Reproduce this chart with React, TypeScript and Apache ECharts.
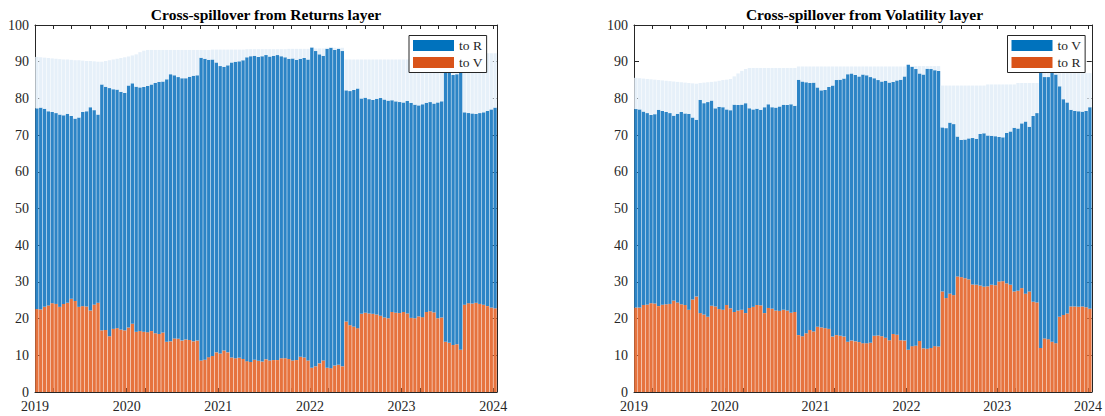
import { useEffect, useRef } from 'react';
import * as echarts from 'echarts';

// ---- data (semi-monthly observations, 2019 – Jan 2024) ----
const START_YEAR = 2019;
const PERIODS_PER_YEAR = 24;
const N_PERIODS = 121;
const X_MAX = START_YEAR + N_PERIODS / PERIODS_PER_YEAR;
const TITLE_LEFT = 'Cross-spillover from Returns layer';
const TITLE_RIGHT = 'Cross-spillover from Volatility layer';
const YEAR_TICKS = [2019, 2020, 2021, 2022, 2023, 2024];

// observation dates: first / second half of each month
const PERIODS = Array.from({ length: N_PERIODS }, (_, i) => {
  const y = START_YEAR + Math.floor(i / PERIODS_PER_YEAR);
  const m = Math.floor((i % PERIODS_PER_YEAR) / 2) + 1;
  return `${y}-${String(m).padStart(2, '0')}-${i % 2 === 0 ? '01' : '16'}`;
});

// Returns layer: orange ("to V") height, top of blue stack ("to R"), top of faint outline region
const retToV = [
  22.6, 22.5, 23.2, 23.6, 24.2, 24.0, 23.2, 24.0, 24.3, 25.4,
  24.8, 23.2, 23.4, 23.3, 22.2, 23.8, 24.3, 16.8, 16.9, 15.2,
  17.2, 17.4, 17.0, 16.8, 17.6, 18.6, 16.4, 16.6, 16.4, 16.3,
  16.6, 16.0, 15.8, 16.2, 13.7, 13.8, 14.6, 14.5, 14.0, 14.3,
  14.2, 13.8, 14.0, 8.6, 8.8, 9.5, 9.8, 10.8, 10.5, 11.3,
  10.8, 9.4, 9.2, 9.3, 9.0, 8.4, 8.2, 8.8, 8.5, 8.3,
  8.9, 8.6, 8.7, 8.7, 9.2, 9.2, 9.0, 8.6, 8.7, 9.6,
  9.4, 8.6, 6.6, 7.0, 7.8, 8.6, 6.6, 6.5, 7.2, 7.4,
  7.0, 19.2, 18.2, 17.8, 17.4, 21.3, 21.6, 21.4, 21.3, 21.1,
  20.8, 20.3, 20.1, 21.8, 21.6, 21.5, 21.8, 21.4, 20.2, 20.1,
  20.6, 20.4, 21.8, 22.0, 21.7, 20.1, 20.3, 13.7, 13.4, 12.8,
  13.0, 11.5, 23.8, 24.2, 24.1, 24.3, 24.0, 23.8, 23.4, 23.0,
  22.8,
];
const retTotal = [
  77.3, 77.5, 77.2, 76.5, 76.3, 76.0, 75.6, 75.4, 75.8, 75.2,
  74.5, 74.8, 76.3, 76.5, 77.6, 76.8, 75.6, 83.8, 83.2, 82.8,
  82.5, 82.4, 81.8, 81.5, 83.5, 84.1, 83.2, 83.0, 83.1, 83.4,
  83.8, 84.2, 84.5, 84.6, 85.2, 86.6, 86.3, 85.8, 85.5, 85.5,
  85.9, 86.2, 86.3, 91.1, 90.8, 90.5, 90.6, 89.8, 88.8, 88.6,
  89.0, 89.8, 90.0, 90.1, 90.4, 91.2, 91.5, 91.6, 91.3, 91.5,
  91.8, 91.4, 91.6, 91.8, 91.5, 91.2, 90.8, 90.9, 90.5, 90.8,
  91.0, 90.6, 93.9, 92.9, 92.0, 91.6, 93.5, 93.8, 93.2, 93.5,
  92.9, 82.2, 82.0, 82.3, 82.7, 80.0, 80.2, 79.8, 79.6, 79.9,
  80.1, 79.7, 79.4, 79.5, 79.2, 79.0, 78.9, 79.3, 78.8, 78.3,
  78.1, 78.4, 78.8, 79.0, 78.6, 78.9, 79.2, 87.2, 87.0, 86.4,
  86.6, 87.0, 76.2, 76.0, 75.9, 75.8, 76.0, 76.2, 76.6, 77.0,
  77.5,
];
const retOutline = [
  91.3, 91.2, 91.1, 91.0, 90.9, 90.8, 90.7, 90.6, 90.6, 90.5,
  90.4, 90.4, 90.3, 90.2, 90.2, 90.1, 90.0, 90.0, 90.2, 90.4,
  90.6, 90.8, 91.0, 91.2, 91.4, 91.7, 92.0, 92.6, 93.0, 93.2,
  93.2, 93.2, 93.2, 93.2, 93.2, 93.2, 93.2, 93.2, 93.2, 93.2,
  93.2, 93.2, 93.2, 93.2, 93.2, 93.2, 93.3, 93.3, 93.3, 93.3,
  93.3, 93.3, 93.3, 93.3, 93.3, 93.4, 93.4, 93.4, 93.4, 93.4,
  93.4, 93.4, 93.4, 93.4, 93.4, 93.4, 93.5, 93.5, 93.5, 93.5,
  93.5, 93.5, 94.0, 93.6, 93.6, 93.6, 93.8, 94.0, 93.8, 93.8,
  93.8, 90.6, 90.6, 90.6, 90.6, 90.6, 90.6, 90.6, 90.6, 90.6,
  90.6, 90.6, 90.6, 90.6, 90.6, 90.6, 90.6, 90.6, 90.6, 90.6,
  90.6, 90.6, 90.6, 90.6, 90.6, 90.6, 90.6, 88.0, 88.0, 88.0,
  88.0, 88.0, 92.3, 92.3, 92.3, 92.3, 92.3, 92.3, 92.3, 92.3,
  92.3,
];

// Volatility layer: orange ("to R") height, top of blue stack ("to V"), top of faint outline region
const volToR = [
  23.0, 23.0, 23.7, 23.8, 24.2, 24.1, 23.4, 23.8, 23.9, 24.0,
  24.9, 24.4, 23.9, 23.7, 22.4, 25.2, 26.0, 21.5, 21.1, 20.5,
  23.5, 23.3, 22.6, 22.4, 23.7, 22.8, 21.8, 22.2, 22.4, 21.5,
  22.9, 23.2, 23.7, 23.6, 21.5, 22.9, 22.7, 22.2, 22.1, 22.4,
  22.2, 21.6, 21.8, 15.5, 15.2, 16.0, 16.9, 16.5, 17.8, 17.6,
  17.4, 17.2, 15.1, 15.5, 15.3, 15.1, 13.7, 14.0, 13.8, 13.6,
  13.3, 13.3, 13.4, 15.3, 15.4, 15.2, 14.8, 14.1, 15.8, 15.6,
  14.1, 14.0, 11.5, 12.5, 12.6, 13.9, 11.9, 11.8, 12.0, 12.5,
  12.4, 27.4, 25.6, 26.8, 26.4, 31.5, 31.3, 31.0, 30.7, 29.3,
  29.2, 29.0, 28.7, 28.8, 29.2, 29.1, 30.1, 30.2, 29.6, 29.2,
  27.4, 27.6, 28.3, 26.8, 27.4, 24.6, 24.4, 12.0, 14.6, 14.4,
  13.7, 13.3, 20.5, 21.0, 21.4, 23.3, 23.3, 23.2, 23.3, 23.1,
  22.7,
];
const volTotal = [
  77.1, 77.0, 76.4, 76.0, 75.5, 75.7, 76.9, 76.6, 76.3, 76.0,
  75.3, 75.8, 76.3, 75.9, 75.8, 74.8, 74.2, 79.6, 78.7, 79.0,
  79.4, 77.3, 77.7, 77.6, 77.0, 76.8, 78.3, 78.2, 78.3, 78.7,
  77.3, 77.0, 77.2, 76.9, 77.6, 78.4, 77.6, 77.5, 77.8, 78.3,
  78.2, 78.4, 78.0, 85.1, 84.6, 84.4, 84.2, 84.3, 83.0, 82.2,
  82.3, 83.1, 83.5, 85.0, 85.1, 85.4, 86.6, 86.8, 86.4, 86.0,
  86.5, 86.3, 85.8, 85.5, 85.0, 84.6, 84.8, 84.3, 84.5, 84.9,
  85.1, 86.0, 89.2, 88.6, 88.0, 86.8, 86.5, 88.1, 88.0, 87.7,
  87.5, 72.1, 71.9, 73.4, 73.0, 69.6, 68.7, 68.8, 69.1, 69.2,
  69.0, 70.3, 70.5, 69.9, 69.8, 69.7, 69.5, 69.4, 70.6, 71.0,
  72.0, 71.8, 73.2, 73.7, 72.3, 75.2, 76.0, 86.9, 85.8, 85.8,
  86.9, 86.5, 83.3, 79.8, 78.9, 76.9, 76.6, 76.5, 76.4, 76.6,
  77.6,
];
const volOutline = [
  85.6, 85.5, 85.4, 85.3, 85.2, 85.1, 85.0, 84.9, 84.8, 84.7,
  84.6, 84.5, 84.4, 84.3, 84.2, 84.1, 84.0, 84.2, 84.3, 84.4,
  84.5, 84.6, 84.8, 85.0, 85.1, 85.3, 86.0, 86.8, 87.5, 88.0,
  88.3, 88.3, 88.3, 88.3, 88.3, 88.3, 88.3, 88.3, 88.3, 88.3,
  88.3, 88.3, 88.3, 88.7, 88.7, 88.7, 88.7, 88.7, 88.7, 88.7,
  88.7, 88.7, 88.7, 88.7, 88.7, 88.7, 88.7, 88.7, 88.7, 88.7,
  88.7, 88.7, 88.7, 88.7, 88.7, 88.7, 88.7, 88.7, 88.7, 88.7,
  88.7, 88.7, 89.2, 88.8, 88.8, 88.8, 88.8, 88.8, 88.8, 88.8,
  88.8, 83.5, 83.5, 83.5, 83.5, 83.5, 83.5, 83.5, 83.5, 83.5,
  83.5, 83.5, 83.5, 83.8, 83.8, 83.8, 83.8, 83.8, 83.8, 83.8,
  83.8, 84.2, 84.2, 84.2, 84.2, 84.2, 84.2, 87.0, 87.0, 87.0,
  87.0, 87.0, 86.9, 86.9, 86.9, 86.9, 86.9, 86.9, 86.9, 86.9,
  86.9,
];

// ---- styles ----
const FONT = '"Liberation Serif", "Times New Roman", serif';
const AXIS = '#262626';
const BAR_BLUE = '#2c84c6';
const BAR_ORANGE = '#e6733e';
const BAR_PALE = '#e6f0f9';
const KEY_BLUE = '#0072BD';
const KEY_ORANGE = '#D95319';

// per grid: xAxis 3*gi = hidden category axis for the bars, +1 bottom year axis, +2 top mirror
function panel(
  gi: number,
  lower: number[],
  total: number[],
  outline: number[],
  lowerName: string,
  upperName: string,
) {
  const common = {
    type: 'bar' as const,
    stack: 'stack' + gi,
    xAxisIndex: gi * 3,
    yAxisIndex: gi * 2,
    barWidth: 3.3,
    silent: true,
  };
  return [
    {
      ...common,
      name: lowerName,
      itemStyle: { color: BAR_ORANGE },
      data: lower,
    },
    {
      ...common,
      name: upperName,
      itemStyle: { color: BAR_BLUE },
      data: total.map((v, i) => +(v - lower[i]).toFixed(2)),
    },
    {
      ...common,
      name: 'outline' + gi,
      itemStyle: { color: BAR_PALE },
      data: outline.map((v, i) => Math.max(0, +(v - total[i]).toFixed(2))),
    },
  ];
}

function xAxes(gi: number) {
  const base = {
    type: 'value' as const,
    gridIndex: gi,
    min: START_YEAR,
    max: X_MAX,
    interval: 1,
    splitLine: { show: false },
    axisLine: { show: true, onZero: false, lineStyle: { color: AXIS, width: 1 } },
    axisTick: { show: true, inside: true, length: 4, lineStyle: { color: AXIS } },
    minorTick: { show: true, splitNumber: 5, length: 4, lineStyle: { color: AXIS } },
  };
  return [
    {
      type: 'category' as const,
      gridIndex: gi,
      data: PERIODS,
      boundaryGap: true,
      show: false,
    },
    {
      ...base,
      position: 'bottom' as const,
      axisLabel: {
        show: true,
        margin: 7,
        fontFamily: FONT,
        fontSize: 14,
        color: AXIS,
        showMaxLabel: false,
        formatter: (v: number) => (YEAR_TICKS.includes(Math.round(v * 1000) / 1000) ? String(Math.round(v)) : ''),
      },
    },
    { ...base, position: 'top' as const, axisLabel: { show: false } },
  ];
}

function yAxes(gi: number) {
  const base = {
    type: 'value' as const,
    gridIndex: gi,
    min: 0,
    max: 100,
    interval: 10,
    splitLine: { show: false },
    axisLine: { show: true, onZero: false, lineStyle: { color: AXIS, width: 1 } },
    axisTick: { show: true, inside: true, length: 5, lineStyle: { color: AXIS } },
  };
  return [
    {
      ...base,
      position: 'left' as const,
      axisLabel: { show: true, margin: 6, fontFamily: FONT, fontSize: 14, color: AXIS },
    },
    { ...base, position: 'right' as const, axisLabel: { show: false } },
  ];
}

function legend(left: number, first: string, second: string) {
  return {
    orient: 'vertical' as const,
    left,
    top: 35.5,
    itemWidth: 41,
    itemHeight: 11,
    itemGap: 3,
    padding: [3, 4, 3, 4],
    borderColor: AXIS,
    borderWidth: 1,
    borderRadius: 0,
    backgroundColor: '#ffffff',
    selectedMode: false,
    icon: 'rect',
    textStyle: { fontFamily: FONT, fontSize: 13.5, color: AXIS, lineHeight: 14 },
    data: [
      { name: first, icon: 'rect', itemStyle: { color: KEY_BLUE } },
      { name: second, icon: 'rect', itemStyle: { color: KEY_ORANGE } },
    ],
  };
}

export default function App() {
  const ref = useRef<HTMLDivElement>(null);

  useEffect(() => {
    if (!ref.current) return;
    const chart = echarts.init(ref.current, undefined, { renderer: 'svg' });
    const gridL = { left: 35, top: 25, width: 462, height: 367, containLabel: false };
    const gridR = { left: 634, top: 25, width: 461, height: 367, containLabel: false };
    chart.setOption({
      animation: false,
      backgroundColor: '#ffffff',
      grid: [gridL, gridR],
      xAxis: [...xAxes(0), ...xAxes(1)],
      yAxis: [...yAxes(0), ...yAxes(1)],
      legend: [legend(409, 'to R', 'to V'), legend(1007.5, 'to V', 'to R')],
      graphic: [
        {
          type: 'text',
          x: 266,
          y: 14,
          silent: true,
          style: {
            text: TITLE_LEFT,
            textAlign: 'center',
            textVerticalAlign: 'middle',
            font: `bold 15.5px ${FONT}`,
            fill: '#000000',
          },
        },
        {
          type: 'text',
          x: 864.5,
          y: 14,
          silent: true,
          style: {
            text: TITLE_RIGHT,
            textAlign: 'center',
            textVerticalAlign: 'middle',
            font: `bold 15.5px ${FONT}`,
            fill: '#000000',
          },
        },
      ],
      series: [
        ...panel(0, retToV, retTotal, retOutline, 'to V', 'to R'),
        ...panel(1, volToR, volTotal, volOutline, 'to R', 'to V'),
      ],
    });
    return () => chart.dispose();
  }, []);

  return (
    <div
      ref={ref}
      style={{ position: 'fixed', left: 0, top: 0, width: 1105, height: 416, background: '#fff' }}
    />
  );
}
